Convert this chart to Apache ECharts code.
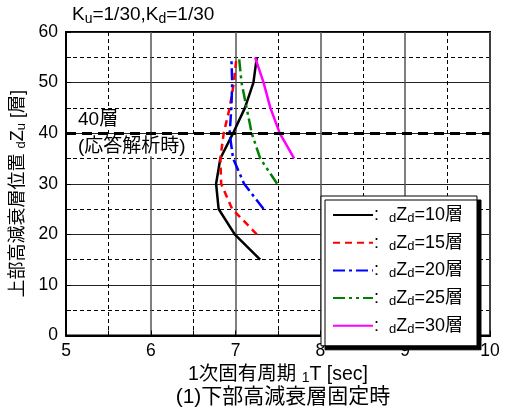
<!DOCTYPE html>
<html>
<head>
<meta charset="utf-8">
<script src="https://cdn.jsdelivr.net/npm/echarts@6/dist/echarts.min.js"></script>
<style>
  html, body { margin: 0; padding: 0; background: #fff; }
  #chart { width: 508px; height: 416px; }
</style>
</head>
<body>
<div id="chart"></div>
<script>
// 下部高減衰層位置 dZd (凡例)
const dZdList = [10, 15, 20, 25, 30]
// 各ケースの上部高減衰層位置 dZu [層]
const floors10 = [15, 20, 25, 30, 35, 40, 45, 50, 55]
const floors15 = [20, 25, 30, 35, 40, 45, 50, 55]
const floors20 = [25, 30, 35, 40, 45, 50, 55]
const floors25 = [30, 35, 40, 45, 50, 55]
const floors30 = [35, 40, 45, 50, 55]
// 1次固有周期 1T [sec]
const period10 = [7.29, 6.99, 6.80, 6.77, 6.82, 6.97, 7.11, 7.21, 7.25]
const period15 = [7.25, 6.96, 6.83, 6.82, 6.86, 6.93, 6.98, 7.01]
const period20 = [7.33, 7.10, 6.97, 6.93, 6.95, 6.96, 6.95]
const period25 = [7.49, 7.29, 7.19, 7.13, 7.07, 7.04]
const period30 = [7.69, 7.52, 7.41, 7.33, 7.23]
// 応答解析時の位置
const analysisFloor = 40

const FONT = "'Liberation Sans', 'Noto Sans CJK JP', sans-serif"
const colors = ['#000000', '#ff0000', '#0000ff', '#008000', '#ff00ff']
const dashes = ['solid', [7, 5], [12, 4, 3, 4], [12, 4, 3, 4, 3, 4], 'solid']
const floorsList = [floors10, floors15, floors20, floors25, floors30]
const periodList = [period10, period15, period20, period25, period30]

const series = dZdList.map((v, i) => ({
  name: 'dZd=' + v + '層',
  type: 'line',
  symbol: 'none',
  data: floorsList[i].map((f, j) => [periodList[i][j], f]),
  lineStyle: { color: colors[i], width: 2.5, type: dashes[i] },
  itemStyle: { color: colors[i] },
  z: 3
}))

// 40層 (応答解析時) の太破線
series.push({
  name: 'analysis',
  type: 'line',
  data: [],
  markLine: {
    silent: true,
    symbol: 'none',
    lineStyle: { color: '#000', width: 3, type: [10, 6] },
    data: [
      {
        yAxis: analysisFloor,
        label: {
          position: 'insideStartTop', formatter: analysisFloor + '層', distance: [11, 4],
          color: '#000', fontSize: 19, fontFamily: FONT, backgroundColor: '#fff', padding: [0, 1]
        }
      },
      {
        yAxis: analysisFloor,
        label: {
          position: 'insideStartBottom', formatter: '(応答解析時)', distance: [11, 4],
          color: '#000', fontSize: 19, fontFamily: FONT, backgroundColor: '#fff', padding: [0, 1]
        }
      }
    ]
  },
  z: 2
})

const legendRich = {
  n: { fontSize: 18, fontFamily: FONT, color: '#000' },
  s: { fontSize: 13, fontFamily: FONT, color: '#000', verticalAlign: 'bottom', padding: [7, 0, 0, 0] }
}
const xNameRich = {
  n: { fontSize: 19.5, fontFamily: FONT, color: '#000' },
  s: { fontSize: 14, fontFamily: FONT, color: '#000', verticalAlign: 'bottom', padding: [7, 0, 0, 0] }
}
const yNameRich = {
  n: { fontSize: 18, fontFamily: FONT, color: '#000' },
  s: { fontSize: 13, fontFamily: FONT, color: '#000', verticalAlign: 'bottom', padding: [7, 0, 0, 0] }
}

const chart = echarts.init(document.getElementById('chart'))
chart.setOption({
  animation: false,
  backgroundColor: '#fff',
  textStyle: { fontFamily: FONT },
  title: [
    {
      text: 'K{s|u}=1/30,K{s|d}=1/30',
      left: 67, top: -1,
      textStyle: {
        fontSize: 19, fontWeight: 'normal', color: '#000', fontFamily: FONT,
        rich: {
          s: { fontSize: 14, fontFamily: FONT, color: '#000', verticalAlign: 'bottom', padding: [8, 0, 0, 0] }
        }
      }
    },
    {
      text: '(1)下部高減衰層固定時',
      left: 278, top: 382, textAlign: 'center',
      textStyle: { fontSize: 21, fontWeight: 'normal', color: '#000', fontFamily: FONT }
    }
  ],
  grid: {
    left: 66, right: 18, top: 32, bottom: 80.5,
    show: true, borderColor: '#000', borderWidth: 2, backgroundColor: 'transparent'
  },
  legend: {
    data: dZdList.map(v => 'dZd=' + v + '層'),
    orient: 'vertical',
    left: 321, top: 196,
    width: 157,
    itemWidth: 40, itemHeight: 14, itemGap: 8.7,
    padding: [10, 14, 10, 11],
    backgroundColor: '#fff',
    borderColor: '#000', borderWidth: 1,
    shadowColor: '#000', shadowBlur: 0, shadowOffsetX: 4, shadowOffsetY: 4,
    itemStyle: { opacity: 0, borderWidth: 0 },
    formatter: name => {
      const num = name.replace('dZd=', '')
      return '{n|:  }{s|d}{n|Z}{s|d}{n|=' + num + '}'
    },
    textStyle: { rich: legendRich, padding: [0, 0, 0, -4] }
  },
  xAxis: {
    type: 'value', min: 5, max: 10, interval: 1,
    name: '{n|1次固有周期 }{s|1}{n|T [sec]}',
    nameLocation: 'middle', nameGap: 22,
    nameTextStyle: { fontSize: 19.5, color: '#000', fontFamily: FONT, rich: xNameRich },
    axisLine: { show: true, lineStyle: { color: '#000', width: 2 } },
    axisTick: { show: true, inside: true, length: 5, lineStyle: { color: '#000' } },
    minorTick: { show: true, splitNumber: 2, length: 5, lineStyle: { color: '#000' } },
    axisLabel: { fontSize: 17.5, color: '#000', margin: 7, fontFamily: FONT },
    splitLine: { show: true, lineStyle: { color: '#555', width: 1.5 } },
    minorSplitLine: { show: true, lineStyle: { color: '#000', width: 1, type: [4, 3] } }
  },
  yAxis: {
    type: 'value', min: 0, max: 60, interval: 10,
    name: '{n|上部高減衰層位置 }{s|d}{n|Z}{s|u}{n| [層]}',
    nameLocation: 'middle', nameGap: 35, nameRotate: 90,
    nameTextStyle: { fontSize: 18, color: '#000', fontFamily: FONT, rich: yNameRich, padding: [0, 20, 0, 0] },
    axisLine: { show: true, lineStyle: { color: '#000', width: 2 } },
    axisTick: { show: true, inside: true, length: 5, lineStyle: { color: '#000' } },
    minorTick: { show: true, splitNumber: 2, length: 5, lineStyle: { color: '#000' } },
    axisLabel: { fontSize: 17.5, color: '#000', margin: 8, fontFamily: FONT },
    splitLine: { show: true, lineStyle: { color: '#222', width: 1 } },
    minorSplitLine: { show: true, lineStyle: { color: '#000', width: 1, type: [4, 3] } }
  },
  series: series
})
</script>
</body>
</html>
